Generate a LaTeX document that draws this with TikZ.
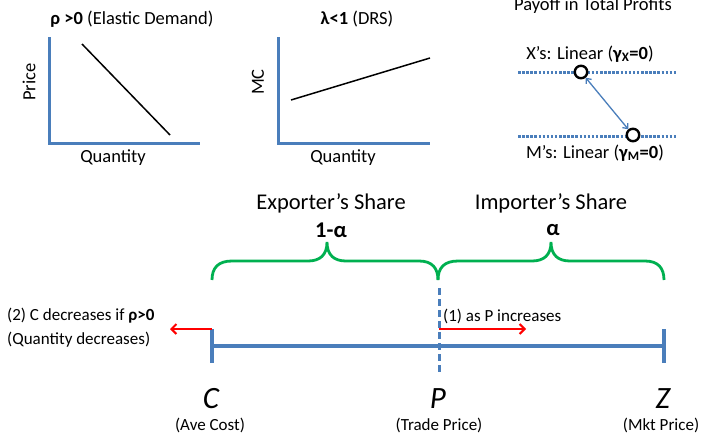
\documentclass[tikz,border=0pt]{standalone}
\usepackage{fontspec}
\setmainfont{Carlito}
\usetikzlibrary{arrows.meta}
\definecolor{obl}{HTML}{4A7EBB}
\definecolor{ogr}{HTML}{00B050}
\definecolor{ored}{HTML}{FF0000}
\begin{document}
\begin{tikzpicture}[x=1pt,y=-1pt,
  axis/.style={obl,line width=3pt},
  curve/.style={black,line width=1.5pt},
  lbl/.style={font=\fontsize{18.5}{20}\selectfont, inner sep=0},
  small/.style={font=\fontsize{17}{19}\selectfont, inner sep=0},
  big/.style={font=\fontsize{22.5}{24}\selectfont, inner sep=0},
  letter/.style={font=\fontsize{31}{33}\selectfont\itshape, inner sep=0},
  brace/.style={ogr,line width=2.8pt},
  redarr/.style={ored,line width=2pt,-{Straight Barb[length=5pt,width=10pt]}},
  dotl/.style={obl,line width=3pt,dash pattern=on 2.5pt off 1.6pt},
  ring/.style={circle,draw=black,fill=white,line width=2.4pt,minimum size=12.5pt,inner sep=0},
  ]
\useasboundingbox (0,0) rectangle (702,434);

% ---------- left graph ----------
\node[lbl] (t1) at (132,19) {\textbf{ρ >0} (Elastic Demand)};
\coordinate (a1t) at (49,37);
\coordinate (a1o) at (49,143);
\coordinate (a1r) at (200,143);
\draw[axis] (a1t) -- (a1o) -- (a1r);
\coordinate (d1) at (82,44);
\coordinate (d2) at (170,135);
\draw[curve] (d1) -- (d2);
\node[lbl,rotate=90] (py) at (29,82) {Price};
\node[lbl] (qx1) at (113,158) {Quantity};

% ---------- middle graph ----------
\node[lbl] (t2) at (357,19) {\textbf{λ<1} (DRS)};
\coordinate (a2t) at (278,37);
\coordinate (a2o) at (278,143);
\coordinate (a2r) at (430,143);
\draw[axis] (a2t) -- (a2o) -- (a2r);
\coordinate (m1) at (291,100);
\coordinate (m2) at (430,58);
\draw[curve] (m1) -- (m2);
\node[lbl,rotate=90] (mcy) at (258,82) {MC};
\node[lbl] (qx2) at (343,158) {Quantity};

% ---------- right panel ----------
\node[lbl] (t3) at (593,6) {Payoff in Total Profits};
\node[lbl] (xl) at (590,54) {X’s: Linear (\textbf{γ\textsubscript{X}=0})};
\node[lbl] (ml) at (595,153) {M’s: Linear (\textbf{γ\textsubscript{M}=0})};
\coordinate (dl1) at (518,72);
\coordinate (dl2) at (677,72);
\coordinate (dl3) at (518,136);
\coordinate (dl4) at (677,136);
\draw[dotl] (dl1) -- (dl2);
\draw[dotl] (dl3) -- (dl4);
\node[ring] (cx) at (581,72) {};
\node[ring] (cm) at (633,135) {};
\draw[obl,line width=1.3pt,{Straight Barb[length=4pt,width=7pt]}-{Straight Barb[length=4pt,width=7pt]}] (cx) -- (cm);

% ---------- braces ----------
\node[big] (exs) at (331,203) {Exporter’s Share};
\node[big] (ims) at (551,203) {Importer’s Share};
\node[big] (oma) at (331,230) {\textbf{1-α}};
\node[big] (alp) at (553,230) {\textbf{α}};
\draw[brace] (212,280) .. controls (212,268) and (218,261) .. (232,261) -- (308,261)
  .. controls (320,261) and (327,255) .. (327,242)
  .. controls (327,255) and (334,261) .. (346,261) -- (419,261)
  .. controls (432,261) and (438,268) .. (438,280);
\draw[brace] (438,280) .. controls (438,268) and (444,261) .. (458,261) -- (532,261)
  .. controls (544,261) and (551,255) .. (551,242)
  .. controls (551,255) and (558,261) .. (570,261) -- (645,261)
  .. controls (658,261) and (664,268) .. (664,280);

% ---------- main line ----------
\coordinate (Cm) at (212,346);
\coordinate (Zm) at (664,346);
\coordinate (Ct) at (212,329);
\coordinate (Cb) at (212,363);
\coordinate (Zt) at (664,329);
\coordinate (Zb) at (664,363);
\draw[obl,line width=3.5pt] (Cm) -- (Zm);
\draw[obl,line width=3.5pt] (Ct) -- (Cb);
\draw[obl,line width=3.5pt] (Zt) -- (Zb);
\coordinate (Pt) at (439,288);
\coordinate (Pb) at (439,375);
\draw[obl,line width=3pt,dash pattern=on 7pt off 4pt] (Pt) -- (Pb);

% red arrows
\coordinate (Lend) at (170,329);
\coordinate (Ps) at (439,329);
\coordinate (Rend) at (526,329);
\draw[redarr] (Ct) -- (Lend);
\draw[redarr] (Ps) -- (Rend);
\node[small,anchor=west] (r1) at (443,316) {(1) as P increases};
\node[small,anchor=west] (r2) at (7,316) {(2) C decreases if \textbf{ρ>0}};
\node[small,anchor=west] (r3) at (7,340) {(Quantity decreases)};

% letters
\node[letter] (lc) at (211,399) {C};
\node[letter] (lp) at (438,399) {P};
\node[letter] (lz) at (663,399) {Z};
\node[small] (sc) at (210,425) {(Ave Cost)};
\node[small] (sp) at (439,425) {(Trade Price)};
\node[small] (sz) at (661,425) {(Mkt Price)};
\end{tikzpicture}
\end{document}
